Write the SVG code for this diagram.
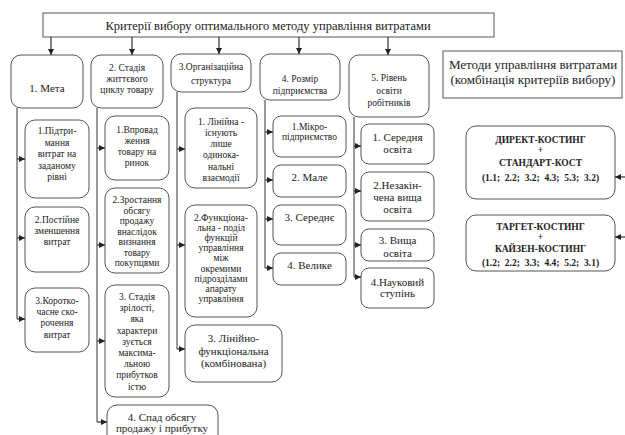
<svg xmlns="http://www.w3.org/2000/svg" width="625" height="435" viewBox="0 0 625 435" font-family="'Liberation Serif', 'Times New Roman', serif">
<defs>
<marker id="ah" viewBox="0 0 10 10" refX="10" refY="5" markerWidth="6" markerHeight="6" markerUnits="userSpaceOnUse" orient="auto">
<path d="M0,0 L10,5 L0,10 z" fill="#222"/>
</marker>
<style>
.box{fill:#fff;stroke:#555;stroke-width:1}
.ln{fill:none;stroke:#333;stroke-width:1}
.ar{fill:none;stroke:#333;stroke-width:1.2;marker-end:url(#ah)}
text{font-family:'Liberation Serif', 'Times New Roman', serif;fill:#222;text-anchor:middle}
.s{font-size:9.5px}
.m{font-size:11px}
.l{font-size:13px}
.t{font-size:12.5px}
.b{font-size:9.5px;font-weight:bold}
</style>
</defs>
<rect width="625" height="435" fill="#fff"/>

<g id="title">
<rect class="box" x="43" y="13" width="451" height="24"/>
<text class="t" x="268" y="30">Критерії вибору оптимального методу управління витратами</text>
</g>

<g id="methods-title">
<rect class="box" x="443" y="51" width="179" height="47"/>
<text class="l" x="533" y="69">Методи управління витратами</text>
<text class="l" x="533" y="84">(комбінація критеріїв вибору)</text>
</g>

<g id="c1">
<rect class="box" x="11" y="55" width="72" height="53" rx="10"/>
<text class="m" x="47" y="92">1. Мета</text>
</g>
<g id="c2">
<rect class="box" x="91" y="55" width="72" height="53" rx="10"/>
<text class="s" x="127" y="71">2. Стадія</text>
<text class="s" x="127" y="82">життєвого</text>
<text class="s" x="127" y="93">циклу товару</text>
</g>
<g id="c3">
<rect class="box" x="171" y="54" width="80" height="38" rx="10"/>
<text class="s" x="211" y="70">3.Організаційна</text>
<text class="s" x="211" y="84">структура</text>
</g>
<g id="c4">
<rect class="box" x="260" y="54" width="80" height="46" rx="10"/>
<text class="s" x="300" y="82">4. Розмір</text>
<text class="s" x="300" y="94">підприємства</text>
</g>
<g id="c5">
<rect class="box" x="349" y="55" width="80" height="62" rx="10"/>
<text class="s" x="389" y="81">5. Рівень</text>
<text class="s" x="389" y="94">освіти</text>
<text class="s" x="389" y="106">робітників</text>
</g>

<g id="c1-1">
<rect class="box" x="25" y="120" width="64" height="78" rx="10"/>
<text class="s" x="57" y="134">1.Підтри-</text>
<text class="s" x="57" y="146">мання</text>
<text class="s" x="57" y="157">витрат на</text>
<text class="s" x="57" y="169">заданому</text>
<text class="s" x="57" y="180">рівні</text>
</g>
<g id="c1-2">
<rect class="box" x="25" y="207" width="64" height="65" rx="10"/>
<text class="s" x="57" y="223">2.Постійне</text>
<text class="s" x="57" y="234">зменшення</text>
<text class="s" x="57" y="245">витрат</text>
</g>
<g id="c1-3">
<rect class="box" x="25" y="288" width="64" height="64" rx="10"/>
<text class="s" x="57" y="304">3.Коротко-</text>
<text class="s" x="57" y="315">часне ско-</text>
<text class="s" x="57" y="326">рочення</text>
<text class="s" x="57" y="338">витрат</text>
</g>

<g id="c2-1">
<rect class="box" x="105" y="116" width="64" height="64" rx="10"/>
<text class="s" x="137" y="133">1.Впровад</text>
<text class="s" x="137" y="144">ження</text>
<text class="s" x="137" y="155">товару на</text>
<text class="s" x="137" y="166">ринок</text>
</g>
<g id="c2-2">
<rect class="box" x="105" y="188" width="64" height="85" rx="10"/>
<text class="s" x="137" y="203">2.Зростання</text>
<text class="s" x="137" y="213.5">обсягу</text>
<text class="s" x="137" y="224">продажу</text>
<text class="s" x="137" y="234.5">внаслідок</text>
<text class="s" x="137" y="245">визнання</text>
<text class="s" x="137" y="255.5">товару</text>
<text class="s" x="137" y="266">покупцями</text>
</g>
<g id="c2-3">
<rect class="box" x="105" y="285" width="64" height="112" rx="10"/>
<text class="s" x="137" y="300">3. Стадія</text>
<text class="s" x="137" y="311.2">зрілості,</text>
<text class="s" x="137" y="322.4">яка</text>
<text class="s" x="137" y="333.6">характери</text>
<text class="s" x="137" y="344.8">зується</text>
<text class="s" x="137" y="356">максима-</text>
<text class="s" x="137" y="367.2">льною</text>
<text class="s" x="137" y="378.4">прибутков</text>
<text class="s" x="137" y="389.6">істю</text>
</g>
<g id="c2-4">
<rect class="box" x="107" y="405" width="111" height="40" rx="10"/>
<text class="m" x="162" y="421">4. Спад обсягу</text>
<text class="m" x="162" y="432">продажу і прибутку</text>
</g>

<g id="c3-1">
<rect class="box" x="185" y="108" width="72" height="80" rx="10"/>
<text class="s" x="221" y="125">1. Лінійна -</text>
<text class="s" x="221" y="136">існують</text>
<text class="s" x="221" y="147">лише</text>
<text class="s" x="221" y="158">одинока-</text>
<text class="s" x="221" y="170">нальні</text>
<text class="s" x="221" y="181">взаємодії</text>
</g>
<g id="c3-2">
<rect class="box" x="185" y="205" width="72" height="112" rx="10"/>
<text class="s" x="221" y="221">2.Функціона-</text>
<text class="s" x="221" y="231.1">льна  - поділ</text>
<text class="s" x="221" y="241.2">функцій</text>
<text class="s" x="221" y="251.3">управління</text>
<text class="s" x="221" y="261.4">між</text>
<text class="s" x="221" y="271.5">окремими</text>
<text class="s" x="221" y="281.6">підрозділами</text>
<text class="s" x="221" y="291.7">апарату</text>
<text class="s" x="221" y="301.8">управління</text>
</g>
<g id="c3-3">
<rect class="box" x="185" y="325" width="97" height="57" rx="10"/>
<text class="m" x="233.5" y="342">3. Лінійно-</text>
<text class="m" x="233.5" y="355">функціональна</text>
<text class="m" x="233.5" y="367">(комбінована)</text>
</g>

<g id="c4-1">
<rect class="box" x="273" y="116" width="73" height="41" rx="8"/>
<text class="s" x="309.5" y="130">1.Мікро-</text>
<text class="s" x="309.5" y="140">підприємство</text>
</g>
<g id="c4-2">
<rect class="box" x="273" y="165" width="73" height="32" rx="8"/>
<text class="m" x="309.5" y="181">2. Мале</text>
</g>
<g id="c4-3">
<rect class="box" x="273" y="205" width="73" height="40" rx="8"/>
<text class="m" x="309.5" y="221">3. Середнє</text>
</g>
<g id="c4-4">
<rect class="box" x="273" y="253" width="73" height="32" rx="8"/>
<text class="m" x="309.5" y="269">4. Велике</text>
</g>

<g id="c5-1">
<rect class="box" x="361" y="124" width="73" height="40" rx="8"/>
<text class="m" x="397.5" y="141">1. Середня</text>
<text class="m" x="397.5" y="153">освіта</text>
</g>
<g id="c5-2">
<rect class="box" x="361" y="172" width="73" height="49" rx="8"/>
<text class="m" x="397.5" y="189">2.Незакін-</text>
<text class="m" x="397.5" y="201">чена вища</text>
<text class="m" x="397.5" y="213">освіта</text>
</g>
<g id="c5-3">
<rect class="box" x="361" y="229" width="73" height="32" rx="8"/>
<text class="m" x="397.5" y="244">3. Вища</text>
<text class="m" x="397.5" y="257">освіта</text>
</g>
<g id="c5-4">
<rect class="box" x="361" y="268" width="73" height="40" rx="8"/>
<text class="m" x="397.5" y="286">4.Науковий</text>
<text class="m" x="397.5" y="297">ступінь</text>
</g>

<g id="m1">
<rect class="box" x="466" y="126" width="149" height="73" rx="10"/>
<text class="b" x="540.5" y="143">ДИРЕКТ-КОСТИНГ</text>
<text class="b" x="540.5" y="153">+</text>
<text class="b" x="540.5" y="166">СТАНДАРТ-КОСТ</text>
<text class="b" x="540.5" y="181" xml:space="preserve">(1.1;  2.2;  3.2;  4.3;  5.3;  3.2)</text>
</g>
<g id="m2">
<rect class="box" x="466" y="215" width="149" height="56" rx="10"/>
<text class="b" x="540.5" y="230">ТАРГЕТ-КОСТИНГ</text>
<text class="b" x="540.5" y="240">+</text>
<text class="b" x="540.5" y="252">КАЙЗЕН-КОСТИНГ</text>
<text class="b" x="540.5" y="266" xml:space="preserve">(1.2;  2.2;  3.3;  4.4;  5.2;  3.1)</text>
</g>

<g id="connectors">
<line class="ar" x1="51" y1="37" x2="51" y2="55"/>
<line class="ar" x1="132" y1="37" x2="132" y2="55"/>
<line class="ar" x1="219" y1="37" x2="219" y2="54"/>
<line class="ar" x1="299" y1="37" x2="299" y2="54"/>
<line class="ar" x1="388" y1="37" x2="388" y2="55"/>

<line class="ln" x1="17" y1="108" x2="17" y2="319"/>
<line class="ar" x1="17" y1="159" x2="25" y2="159"/>
<line class="ar" x1="17" y1="238" x2="25" y2="238"/>
<line class="ar" x1="17" y1="319" x2="25" y2="319"/>

<line class="ln" x1="97" y1="108" x2="97" y2="422"/>
<line class="ar" x1="97" y1="148" x2="105" y2="148"/>
<line class="ar" x1="97" y1="245" x2="105" y2="245"/>
<line class="ar" x1="97" y1="341" x2="105" y2="341"/>
<line class="ar" x1="97" y1="422" x2="107" y2="422"/>

<line class="ln" x1="177" y1="92" x2="177" y2="349"/>
<line class="ar" x1="177" y1="149" x2="185" y2="149"/>
<line class="ar" x1="177" y1="245" x2="185" y2="245"/>
<line class="ar" x1="177" y1="349" x2="185" y2="349"/>

<line class="ln" x1="265" y1="100" x2="265" y2="268"/>
<line class="ar" x1="265" y1="132" x2="273" y2="132"/>
<line class="ar" x1="265" y1="180" x2="273" y2="180"/>
<line class="ar" x1="265" y1="219" x2="273" y2="219"/>
<line class="ar" x1="265" y1="268" x2="273" y2="268"/>

<line class="ln" x1="354" y1="117" x2="354" y2="277"/>
<line class="ar" x1="354" y1="146" x2="361" y2="146"/>
<line class="ar" x1="354" y1="191" x2="361" y2="191"/>
<line class="ar" x1="354" y1="245" x2="361" y2="245"/>
<line class="ar" x1="354" y1="277" x2="361" y2="277"/>

<line class="ar" x1="626" y1="177" x2="615" y2="177"/>
<line class="ar" x1="626" y1="237" x2="615" y2="237"/>
</g>
</svg>
